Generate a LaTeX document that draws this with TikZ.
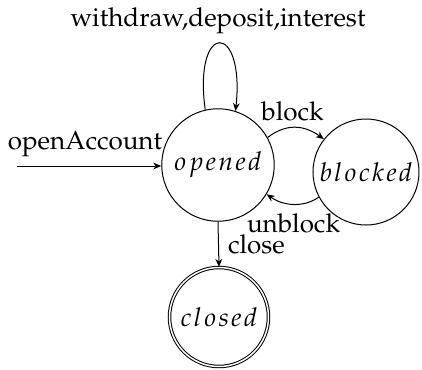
\documentclass[tikz,border=0pt]{standalone}
\usepackage[T1]{fontenc}
\usepackage{mathpazo}
\usetikzlibrary{arrows.meta}
\newcommand{\lsp}{\mkern1.3mu}
\begin{document}
\begin{tikzpicture}[x=0.4pt,y=-0.4pt,
  font=\fontsize{10.4}{12.5}\selectfont,
  state/.style={circle,draw,line width=0.4pt,inner sep=0pt},
  lbl/.style={inner sep=0pt,anchor=base},
  edge/.style={draw,line width=0.4pt,-{Stealth[length=3.2pt,width=2.7pt,inset=1pt]}}]
\useasboundingbox (0,0) rectangle (422,369);
\node[state,minimum size=45pt] (opened) at (218,165) {$o\lsp p\lsp e\lsp n\lsp e\lsp d$};
\node[state,minimum size=42.4pt] (blocked) at (366,172) {$b\lsp l\lsp o\lsp c\lsp k\lsp e\lsp d$};
\node[state,double,double distance=0.6pt,minimum size=39.6pt] (closed) at (219,317) {$c\lsp l\lsp o\lsp s\lsp e\lsp d$};
\coordinate (start) at (17,166);
\draw[edge] (start) -- (opened.west |- start);
\draw[edge] (opened.103) .. controls (193,21) and (245,21) .. (opened.72);
\draw[edge] (opened.29) .. controls (285,124) and (303,124) .. (blocked.142);
\draw[edge] (blocked.208) .. controls (305,207) and (285,207) .. (opened.-31);
\draw[edge] (opened.south) -- (closed.north);
\node[lbl] (lloop) at (218,26) {withdraw,deposit,interest};
\node[lbl] (lopen) at (85,149) {openAccount};
\node[lbl] (lblock) at (292.5,120) {block};
\node[lbl] (lunblock) at (293.5,232) {unblock};
\node[lbl] (lclose) at (256.5,253) {close};
\end{tikzpicture}
\end{document}
